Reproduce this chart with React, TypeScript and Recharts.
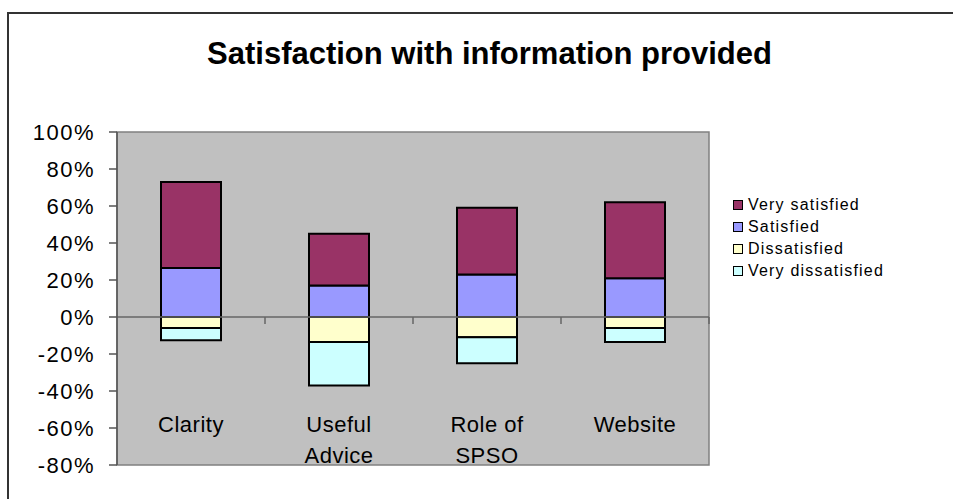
import React from "react";
import { BarChart, Bar, XAxis, YAxis, CartesianGrid, ReferenceLine, ReferenceArea } from "recharts";

const categories = ["Clarity", "Useful Advice", "Role of SPSO", "Website"];
const verySatisfied = [46.5, 28, 36, 41];
const satisfied = [26.5, 17, 23, 21];
const dissatisfied = [-6, -13.5, -11, -6];
const veryDissatisfied = [-6.5, -23.5, -14, -7.5];
const yTicks = [-80, -60, -40, -20, 0, 20, 40, 60, 80, 100];

const legendItems = [
  { name: "Very satisfied", color: "#993366" },
  { name: "Satisfied", color: "#9999FF" },
  { name: "Dissatisfied", color: "#FFFFCC" },
  { name: "Very dissatisfied", color: "#CCFFFF" },
];

const data = categories.map((c, i) => ({
  category: c,
  verySatisfied: verySatisfied[i],
  satisfied: satisfied[i],
  dissatisfied: dissatisfied[i],
  veryDissatisfied: veryDissatisfied[i],
}));

const FONT = "'Liberation Sans', Arial, sans-serif";

const ZeroAxisShape = (props: any) => {
  const { x1, y1, x2 } = props;
  const n = categories.length;
  const step = (x2 - x1) / n;
  return (
    <g>
      <line x1={x1} y1={y1} x2={x2} y2={y1} stroke="#666" strokeWidth={1.5} />
      {categories.map((_, i) => (
        <line
          key={i}
          x1={x1 + step * (i + 1)}
          y1={y1}
          x2={x1 + step * (i + 1)}
          y2={y1 + 7}
          stroke="#666"
          strokeWidth={1.5}
        />
      ))}
    </g>
  );
};

const CategoryTick = (props: any) => {
  const { x, y, payload } = props;
  const value: string = payload.value;
  const idx = value.lastIndexOf(" ");
  const lines = value.length > 8 && idx > 0 ? [value.slice(0, idx), value.slice(idx + 1)] : [value];
  return (
    <text
      x={x}
      y={y}
      textAnchor="middle"
      fill="#000"
      fontFamily={FONT}
      fontSize={22}
      letterSpacing={0.5}
    >
      {lines.map((l, i) => (
        <tspan key={i} x={x} y={y - 41 + i * 31}>
          {l}
        </tspan>
      ))}
    </text>
  );
};

export default function App() {
  return (
    <div style={{ position: "absolute", left: 0, top: 0, width: 953, height: 499, background: "#fff", overflow: "hidden" }}>
      <div
        style={{
          position: "absolute",
          left: 7,
          top: 12,
          width: 980,
          height: 520,
          borderLeft: "2px solid #333",
          borderTop: "2px solid #333",
        }}
      />
      <div
        style={{
          position: "absolute",
          left: 0,
          top: 36,
          width: 979,
          textAlign: "center",
          fontFamily: FONT,
          fontWeight: "bold",
          fontSize: 31,
          lineHeight: "36px",
          color: "#000",
        }}
      >
        Satisfaction with information provided
      </div>
      <div style={{ position: "absolute", left: 0, top: 0 }}>
        <BarChart
          width={953}
          height={499}
          data={data}
          stackOffset="sign"
          margin={{ top: 132, right: 244, bottom: 33, left: 0 }}
        >
          <CartesianGrid fill="#c0c0c0" horizontal={false} vertical={false} />
          <ReferenceArea y1={-80} y2={100} fill="none" fillOpacity={0} stroke="#808080" strokeWidth={1.5} ifOverflow="visible" />
          <XAxis
            dataKey="category"
            height={1}
            axisLine={false}
            tickLine={false}
            tick={<CategoryTick />}
            interval={0}
          />
          <YAxis
            width={117}
            domain={[-80, 100]}
            ticks={yTicks}
            interval={0}
            tickFormatter={(v: number) => `${v}%`}
            axisLine={{ stroke: "#555", strokeWidth: 1.5 }}
            tickLine={{ stroke: "#555", strokeWidth: 1.5 }}
            tickSize={8}
            tickMargin={14}
            tick={{ fill: "#000", fontFamily: FONT, fontSize: 22, letterSpacing: 1.5 }}
          />
          <ReferenceLine y={0} shape={<ZeroAxisShape />} />
          <Bar dataKey="satisfied" name="Satisfied" stackId="a" fill="#9999FF" stroke="#000" strokeWidth={2} barSize={60} isAnimationActive={false} />
          <Bar dataKey="verySatisfied" name="Very satisfied" stackId="a" fill="#993366" stroke="#000" strokeWidth={2} barSize={60} isAnimationActive={false} />
          <Bar dataKey="dissatisfied" name="Dissatisfied" stackId="a" fill="#FFFFCC" stroke="#000" strokeWidth={2} barSize={60} isAnimationActive={false} />
          <Bar dataKey="veryDissatisfied" name="Very dissatisfied" stackId="a" fill="#CCFFFF" stroke="#000" strokeWidth={2} barSize={60} isAnimationActive={false} />
        </BarChart>
      </div>
      <div style={{ position: "absolute", left: 733, top: 194, fontFamily: FONT, fontSize: 16, letterSpacing: 1.2, color: "#000" }}>
        {legendItems.map((it) => (
          <div key={it.name} style={{ display: "flex", alignItems: "center", height: 22 }}>
            <span
              style={{
                display: "inline-block",
                width: 8,
                height: 8,
                background: it.color,
                border: "1px solid #000",
                marginRight: 5,
              }}
            />
            <span style={{ lineHeight: "22px", whiteSpace: "nowrap" }}>{it.name}</span>
          </div>
        ))}
      </div>
    </div>
  );
}
